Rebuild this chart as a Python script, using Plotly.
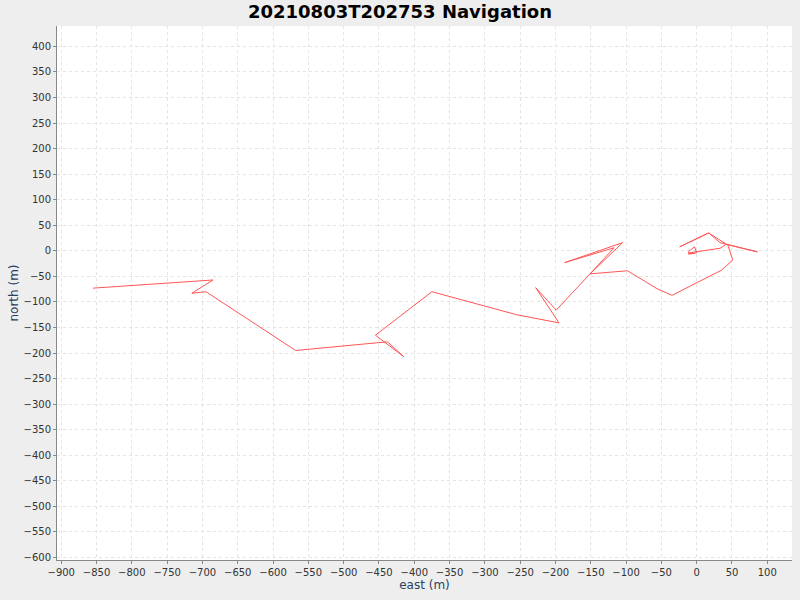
import plotly.graph_objects as go

east = [-855, -685, -715, -695, -568, -438, -415, -455, -375, -255, -195, -228, -199, -151, -105, -187,
        -117, -151, -98, -55, -35, 35, 51, 44, 86, 33, 17, -24, 17, 42, 33, -11, -12, -3, 0, -12, -3]
north = [-73, -57, -83, -80, -195, -178, -207, -165, -80, -125, -141, -72, -116, -45, 16, -23,
         6, -45, -39, -75, -87, -38, -18, 12, -2, 16, 35, 8, 35, 13, 5, -4, -2, 8, -4, -6, -5]

xticks = list(range(-900, 101, 50))
yticks = list(range(-600, 401, 50))

fig = go.Figure(go.Scatter(x=east, y=north, mode="lines", line=dict(color="#ff5555", width=1)))
ax = dict(showgrid=True, gridcolor="#e4e4e4", griddash="3px,3px", gridwidth=1, zeroline=False,
          showline=True, linecolor="#888888", mirror=False, ticks="outside", ticklen=3,
          tickcolor="#888888", automargin=False,
          tickfont=dict(family="DejaVu Sans", size=10, color="#333"))
fig.update_layout(
    width=800, height=600, paper_bgcolor="#eeeeee", plot_bgcolor="white",
    margin=dict(l=57, r=8, t=26, b=40, autoexpand=False), showlegend=False,
    title=dict(text="<b>20210803T202753 Navigation</b>", x=0.5, y=0.98, yanchor="middle",
               font=dict(family="DejaVu Sans", size=18, color="black")),
    xaxis=dict(ax, range=[-906, 135], tickvals=xticks,
               title=dict(text="east (m)", font=dict(family="DejaVu Sans", size=12), standoff=2)),
    yaxis=dict(ax, range=[-605, 440], tickvals=yticks,
               title=dict(text="north (m)", font=dict(family="DejaVu Sans", size=12), standoff=2)),
)
fig.write_html("out.html", config={"displayModeBar": False})
html = open("out.html", encoding="utf-8").read()
html = html.replace("<head>", "<head><style>html,body{margin:0;padding:0;overflow:hidden;}</style>", 1)
open("out.html", "w", encoding="utf-8").write(html)
